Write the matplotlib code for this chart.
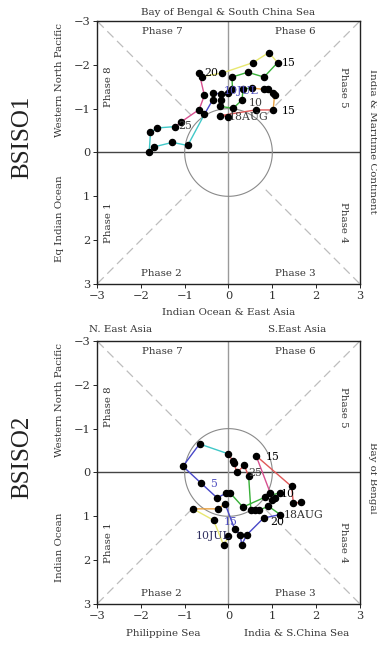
import numpy as np
import matplotlib
matplotlib.use("Agg")
import matplotlib.pyplot as plt

# ---------------------------------------------------------------------------
# BSISO phase-space trajectories, 10 JUL - 18 AUG (PC1, PC2 pairs)
# ---------------------------------------------------------------------------
bsiso1_x = [0.00, 0.09, 0.08, 0.44, 0.81, 1.12, 0.92, 0.56, -0.15, -0.61,
            -0.67, -0.55, -0.67, -1.09, -1.22, -1.62, -1.78, -1.81, -1.69, -1.28,
            -0.93, -0.55, -0.36, -0.36, -0.17, -0.16, -0.19, 0.11, 0.31, 0.33,
            0.53, 0.80, 0.91, 1.01, 1.05, 1.02, 0.62, -0.19, -0.02]
bsiso1_y = [-1.35, -1.45, -1.72, -1.83, -1.72, -2.05, -2.28, -2.05, -1.81, -1.73,
            -1.82, -1.30, -0.98, -0.69, -0.59, -0.56, -0.46, 0.00, -0.13, -0.23,
            -0.16, -0.87, -1.20, -1.35, -1.34, -1.20, -1.05, -1.01, -1.20, -1.45,
            -1.47, -1.44, -1.44, -1.35, -1.31, -0.97, -0.97, -0.84, -0.82]
# segment break indices and colours along the track
bsiso1_breaks = [0, 5, 10, 14, 21, 26, 30, 35, 38]
bsiso1_colors = ["#38b038", "#e8e870", "#d85090", "#40c8c8", "#4848c8",
                 "#38b038", "#e8a040", "#e05858"]
bsiso1_labels = ["15", "20", "25", "10", "15", "18AUG", "10JUL"]
bsiso1_lab_x = [1.38, -0.40, -0.98, 0.62, 1.38, 0.45, 0.28]
bsiso1_lab_y = [-2.05, -1.82, -0.60, -1.12, -0.95, -0.80, -1.40]
bsiso1_lab_c = ["k", "k", "#404040", "#404040", "k", "#404040", "#5050c0"]

bsiso2_x = [0.00, -0.11, -0.34, -0.81, -0.23, -0.08, 0.14, 0.27, 0.30, 0.42,
            0.80, 1.18, 0.91, 0.70, 0.61, 0.51, 0.46, 0.36, 0.19, 0.13,
            0.10, -0.02, -0.66, -1.04, -0.63, -0.26, -0.05, 0.04, 0.33, 0.84,
            1.18, 1.06, 1.00, 0.95, 0.63, 1.44, 1.48, 1.66]
bsiso2_y = [1.46, 1.66, 1.09, 0.83, 0.83, 0.71, 1.29, 1.42, 1.65, 1.42,
            1.04, 0.96, 0.77, 0.86, 0.86, 0.86, 0.09, -0.16, 0.00, -0.21,
            -0.27, -0.43, -0.65, -0.14, 0.24, 0.58, 0.47, 0.47, 0.79, 0.56,
            0.46, 0.58, 0.62, 0.46, -0.38, 0.32, 0.70, 0.68]
bsiso2_breaks = [0, 3, 5, 11, 16, 21, 22, 26, 30, 34, 37]
bsiso2_colors = ["#e8e870", "#e8a040", "#4848c8", "#38b038", "#e05858",
                 "#40c8c8", "#4848c8", "#38b038", "#d85090", "#e05858"]
bsiso2_labels = ["10JUL", "15", "20", "25", "5", "10", "15", "18AUG"]
bsiso2_lab_x = [-0.35, 0.05, 1.12, 0.60, -0.34, 1.36, 1.00, 1.72]
bsiso2_lab_y = [1.44, 1.12, 1.12, 0.02, 0.26, 0.48, -0.36, 0.96]
bsiso2_lab_c = ["#303060", "#5050c0", "k", "#404040", "#5050c0", "k", "k", "#303030"]

ticks = [-3, -2, -1, 0, 1, 2, 3]
phase_names = ["Phase 7", "Phase 6", "Phase 2", "Phase 3",
               "Phase 8", "Phase 1", "Phase 5", "Phase 4"]
phase_x = [-1.52, 1.53, -1.52, 1.53, -2.73, -2.73, 2.62, 2.62]
phase_y = [-2.76, -2.76, 2.76, 2.76, -1.49, 1.59, -1.49, 1.59]
phase_rot = [0, 0, 0, 0, 90, 90, 270, 270]

FONT = "DejaVu Serif"
FS = 7.4


def phase_frame(ax):
    ax.set_xlim(-3, 3)
    ax.set_ylim(3, -3)
    ax.set_xticks(ticks)
    ax.set_yticks(ticks)
    ax.set_xticklabels([f"{t:d}".replace("-", "\u2212") for t in ticks],
                       fontsize=FS + 0.8, family=FONT, color="#333333")
    ax.set_yticklabels([f"{t:d}".replace("-", "\u2212") for t in ticks],
                       fontsize=FS + 0.8, family=FONT, color="#333333")
    ax.tick_params(direction="out", length=3, width=0.6, pad=2)
    for s in ax.spines.values():
        s.set_linewidth(1.0)
        s.set_color("#222222")

    # quadrant axes, unit circle and phase boundaries
    ax.axhline(0, color="#444444", lw=1.0, zorder=1)
    ax.axvline(0, color="#9a9a9a", lw=1.0, zorder=1)
    th = np.linspace(0, 2 * np.pi, 200)
    ax.plot(np.cos(th), np.sin(th), color="#8a8a8a", lw=0.8, zorder=1)
    r = np.array([0.85, 3.0])
    for sx, sy in [(1, 1), (1, -1), (-1, 1), (-1, -1)]:
        ax.plot(sx * r, sy * r, color="#bdbdbd", lw=0.9,
                dashes=(7, 4), zorder=1)

    for name, px, py, rot in zip(phase_names, phase_x, phase_y, phase_rot):
        ax.text(px, py, name, fontsize=FS, family=FONT, color="#333333",
                ha="center", va="center", rotation=rot)


def draw_track(ax, xs, ys, breaks, colors):
    for i in range(len(breaks) - 1):
        a, b = breaks[i], breaks[i + 1]
        ax.plot(xs[a:b + 1], ys[a:b + 1], color=colors[i], lw=1.0, zorder=2)
    ax.plot(xs, ys, "o", color="black", ms=4.4, zorder=3)


def draw_labels(ax, labels, lx, ly, lc):
    for t, x, y, c in zip(labels, lx, ly, lc):
        ax.text(x, y, t, fontsize=FS + 0.4, family=FONT, color=c,
                ha="center", va="center", zorder=4)


def side_text(ax, x, y, s, rot=0, size=FS):
    ax.text(x, y, s, transform=ax.transAxes, fontsize=size, family=FONT,
            color="#333333", ha="center", va="center", rotation=rot,
            clip_on=False)


fig = plt.figure(figsize=(3.77, 6.45), dpi=100)
ax1 = fig.add_axes([0.2573, 0.5597, 0.6976, 0.4078])
ax2 = fig.add_axes([0.2573, 0.0636, 0.6976, 0.4078])

# ---- BSISO1 ----
phase_frame(ax1)
draw_track(ax1, bsiso1_x, bsiso1_y, bsiso1_breaks, bsiso1_colors)
draw_labels(ax1, bsiso1_labels, bsiso1_lab_x, bsiso1_lab_y, bsiso1_lab_c)
side_text(ax1, 0.5, 1.034, "Bay of Bengal & South China Sea")
side_text(ax1, 0.5, -0.110, "Indian Ocean & East Asia")
side_text(ax1, -0.141, 0.776, "Western North Pacific", rot=90)
side_text(ax1, -0.141, 0.250, "Eq Indian Ocean", rot=90)
side_text(ax1, 1.046, 0.544, "India & Maritime Continent", rot=270)
ax1.text(-0.285, 0.559, "BSISO1", transform=ax1.transAxes, rotation=90,
         fontsize=18, family="Liberation Serif", ha="center", va="center",
         color="#222222")

# ---- BSISO2 ----
phase_frame(ax2)
draw_track(ax2, bsiso2_x, bsiso2_y, bsiso2_breaks, bsiso2_colors)
draw_labels(ax2, bsiso2_labels, bsiso2_lab_x, bsiso2_lab_y, bsiso2_lab_c)
side_text(ax2, 0.088, 1.042, "N. East Asia")
side_text(ax2, 0.760, 1.042, "S.East Asia")
side_text(ax2, 0.252, -0.114, "Philippine Sea")
side_text(ax2, 0.760, -0.114, "India & S.China Sea")
side_text(ax2, -0.141, 0.776, "Western North Pacific", rot=90)
side_text(ax2, -0.141, 0.217, "Indian Ocean", rot=90)
side_text(ax2, 1.046, 0.479, "Bay of Bengal", rot=270)
ax2.text(-0.285, 0.559, "BSISO2", transform=ax2.transAxes, rotation=90,
         fontsize=18, family="Liberation Serif", ha="center", va="center",
         color="#222222")

fig.savefig("out.png", dpi=100)
